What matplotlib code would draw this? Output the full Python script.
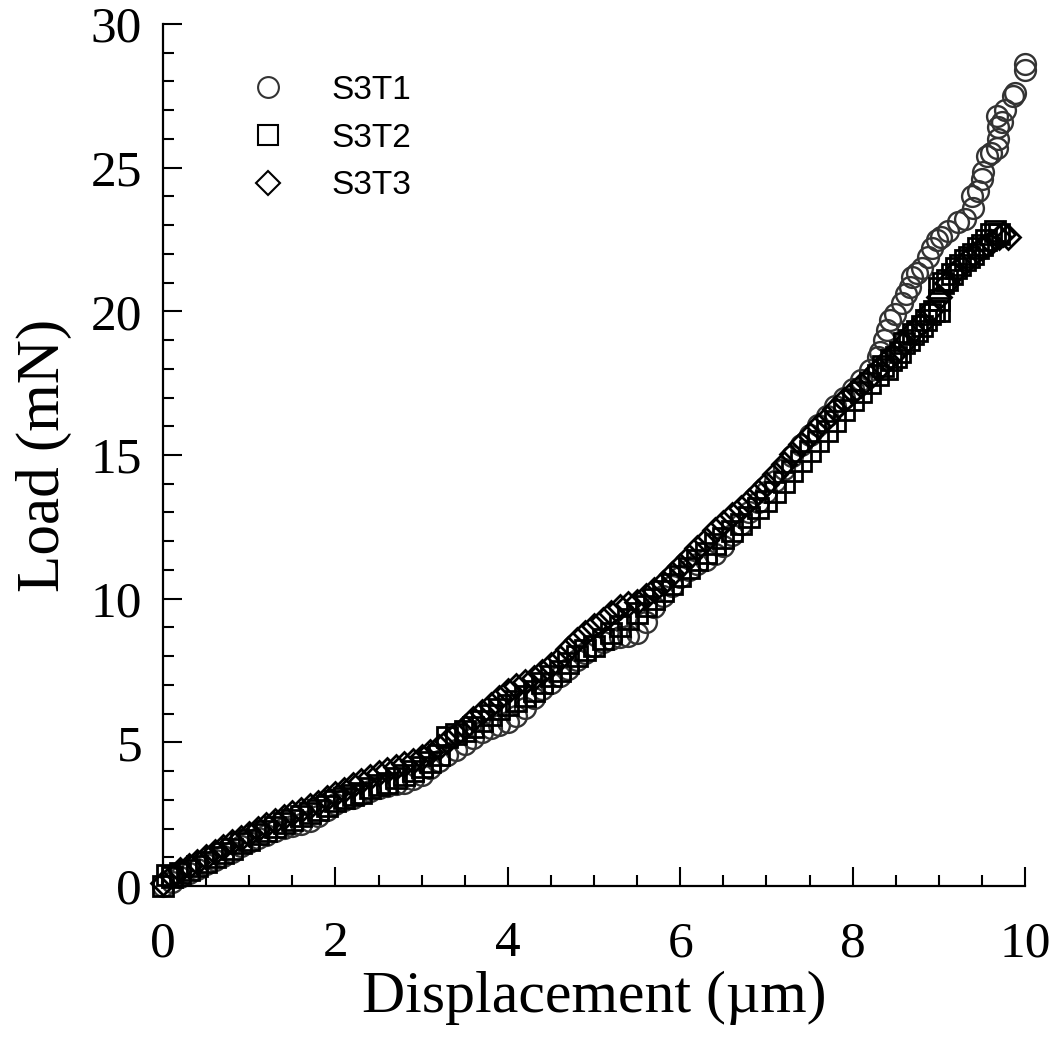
import numpy as np
import matplotlib
matplotlib.use("Agg")
import matplotlib.pyplot as plt
from matplotlib.ticker import MultipleLocator

# Displacement (um) / Load (mN)
s3t1_x = [0.0, 0.1, 0.2, 0.3, 0.4, 0.5, 0.6, 0.7, 0.8, 0.9,
          1.0, 1.1, 1.2, 1.3, 1.4, 1.5, 1.6, 1.7, 1.8, 1.9,
          2.0, 2.1, 2.2, 2.3, 2.4, 2.5, 2.6, 2.7, 2.8, 2.9,
          3.0, 3.1, 3.2, 3.3, 3.4, 3.5, 3.6, 3.7, 3.8, 3.9,
          4.0, 4.1, 4.2, 4.3, 4.4, 4.5, 4.6, 4.7, 4.8, 4.9,
          5.0, 5.1, 5.2, 5.3, 5.4, 5.5, 5.6, 5.7, 5.8, 5.9,
          6.0, 6.1, 6.2, 6.3, 6.4, 6.5, 6.6, 6.7, 6.8, 6.9,
          7.0, 7.1, 7.2, 7.3, 7.4, 7.5, 7.6, 7.7, 7.8, 7.9,
          8.0, 8.1, 8.2, 8.3, 8.32, 8.37, 8.4, 8.43, 8.49, 8.57,
          8.62, 8.67, 8.69, 8.75, 8.8, 8.87, 8.92, 8.98, 9.03, 9.11,
          9.22, 9.3, 9.38, 9.4, 9.45, 9.5, 9.51, 9.56, 9.6, 9.67,
          9.69, 9.69, 9.67, 9.73, 9.77, 9.86, 9.88, 10.0, 10.0]
s3t1_y = [0.0, 0.15, 0.3, 0.45, 0.6, 0.75, 0.9, 1.05, 1.2, 1.38,
          1.52, 1.66, 1.78, 1.9, 2.02, 2.1, 2.15, 2.25, 2.45, 2.65,
          2.85, 2.98, 3.08, 3.2, 3.3, 3.4, 3.48, 3.55, 3.6, 3.72,
          3.85, 4.1, 4.35, 4.55, 4.75, 4.95, 5.15, 5.35, 5.5, 5.6,
          5.7, 5.9, 6.2, 6.55, 6.85, 7.05, 7.3, 7.55, 7.85, 8.1,
          8.35, 8.5, 8.6, 8.65, 8.7, 8.8, 9.2, 9.7, 10.1, 10.45,
          10.75, 11.0, 11.2, 11.35, 11.55, 11.85, 12.2, 12.6, 13.0, 13.35,
          13.7, 14.1, 14.5, 14.95, 15.35, 15.7, 16.05, 16.35, 16.7, 17.0,
          17.3, 17.6, 17.95, 18.4, 18.6, 19.0, 19.35, 19.7, 19.9, 20.3,
          20.6, 20.85, 21.2, 21.35, 21.5, 21.9, 22.2, 22.5, 22.6, 22.8,
          23.1, 23.2, 24.0, 23.6, 24.2, 24.6, 24.85, 25.4, 25.5, 25.7,
          26.0, 26.4, 26.8, 26.6, 27.0, 27.5, 27.6, 28.4, 28.6]

s3t2_x = [0.0, 0.05, 0.1, 0.2, 0.3, 0.4, 0.5, 0.6, 0.7, 0.8, 0.9,
          1.0, 1.1, 1.2, 1.3, 1.4, 1.5, 1.6, 1.7, 1.8, 1.9,
          2.0, 2.1, 2.2, 2.3, 2.4, 2.5, 2.6, 2.7, 2.8, 2.9,
          3.0, 3.1, 3.2, 3.3, 3.4, 3.5, 3.6, 3.7, 3.8, 3.9,
          4.0, 4.1, 4.2, 4.3, 4.4, 4.5, 4.6, 4.7, 4.8, 4.9,
          5.0, 5.1, 5.2, 5.3, 5.4, 5.5, 5.6, 5.7, 5.8, 5.9,
          6.0, 6.1, 6.2, 6.3, 6.4, 6.5, 6.6, 6.7, 6.8, 6.9,
          7.0, 7.1, 7.2, 7.3, 7.4, 7.5, 7.6, 7.7, 7.8, 7.9,
          8.0, 8.1, 8.2, 8.3, 8.35, 8.4, 8.45, 8.5, 8.55, 8.6,
          8.65, 8.7, 8.75, 8.8, 8.85, 8.9, 8.95, 9.0, 9.0, 9.0,
          9.05, 9.1, 9.15, 9.2, 9.25, 9.3, 9.35, 9.4, 9.45, 9.5,
          9.55, 9.6, 9.65, 9.7]
s3t2_y = [0.0, 0.4, 0.3, 0.45, 0.55, 0.7, 0.85, 1.0, 1.15, 1.3, 1.5,
          1.6, 1.8, 1.9, 2.05, 2.2, 2.3, 2.45, 2.55, 2.65, 2.8,
          2.95, 3.05, 3.15, 3.25, 3.4, 3.5, 3.6, 3.75, 3.85, 4.0,
          4.15, 4.3, 4.55, 5.2, 5.3, 5.4, 5.55, 5.75, 5.95, 6.15,
          6.3, 6.45, 6.6, 6.8, 7.05, 7.3, 7.5, 7.75, 8.0, 8.2,
          8.35, 8.6, 8.8, 9.05, 9.3, 9.5, 9.75, 10.0, 10.25, 10.5,
          10.8, 11.05, 11.35, 11.6, 11.9, 12.1, 12.35, 12.6, 12.85, 13.15,
          13.4, 13.7, 14.05, 14.45, 14.8, 15.15, 15.5, 15.85, 16.2, 16.55,
          16.9, 17.2, 17.5, 17.8, 18.1, 18.0, 18.3, 18.4, 18.6, 18.9,
          19.0, 19.2, 19.3, 19.5, 19.7, 19.9, 20.0, 20.0, 20.4, 20.8,
          21.0, 21.1, 21.3, 21.5, 21.6, 21.8, 21.9, 22.0, 22.2, 22.3,
          22.5, 22.7, 22.8, 22.7]

s3t3_x = [0.0, 0.1, 0.2, 0.3, 0.4, 0.5, 0.6, 0.7, 0.8, 0.9,
          1.0, 1.1, 1.2, 1.3, 1.4, 1.5, 1.6, 1.7, 1.8, 1.9,
          2.0, 2.1, 2.2, 2.3, 2.4, 2.5, 2.6, 2.7, 2.8, 2.9,
          3.0, 3.1, 3.2, 3.3, 3.4, 3.5, 3.6, 3.7, 3.8, 3.9,
          4.0, 4.1, 4.2, 4.3, 4.4, 4.5, 4.6, 4.7, 4.8, 4.9,
          5.0, 5.1, 5.2, 5.3, 5.4, 5.5, 5.6, 5.7, 5.8, 5.9,
          6.0, 6.1, 6.2, 6.3, 6.4, 6.5, 6.6, 6.7, 6.8, 6.9,
          7.0, 7.1, 7.2, 7.3, 7.4, 7.5, 7.6, 7.7, 7.8, 7.9,
          8.0, 8.1, 8.2, 8.3, 8.4, 8.5, 8.6, 8.7, 8.8, 8.9,
          9.0, 9.1, 9.2, 9.3, 9.4, 9.5, 9.6, 9.7, 9.75, 9.8]
s3t3_y = [0.1, 0.35, 0.55, 0.7, 0.85, 1.0, 1.18, 1.35, 1.52, 1.68,
          1.82, 1.98, 2.12, 2.25, 2.4, 2.55, 2.65, 2.78, 2.9, 3.05,
          3.2, 3.35, 3.5, 3.65, 3.8, 3.95, 4.05, 4.15, 4.25, 4.35,
          4.5, 4.65, 4.85, 5.05, 5.3, 5.55, 5.8, 6.05, 6.3, 6.55,
          6.8, 6.95, 7.1, 7.25, 7.45, 7.7, 7.95, 8.25, 8.55, 8.8,
          9.05, 9.25, 9.5, 9.7, 9.8, 9.9, 10.1, 10.3, 10.55, 10.85,
          11.15, 11.45, 11.75, 12.05, 12.4, 12.65, 12.9, 13.15, 13.4, 13.7,
          14.0, 14.35, 14.7, 15.05, 15.4, 15.7, 16.0, 16.3, 16.6, 16.9,
          17.2, 17.45, 17.7, 18.0, 18.3, 18.6, 18.9, 19.3, 19.6, 20.0,
          20.5, 21.0, 21.4, 21.7, 22.0, 22.2, 22.4, 22.6, 22.7, 22.6]

plt.rcParams['font.family'] = ['Liberation Serif', 'DejaVu Serif']

fig = plt.figure(figsize=(10.5, 10.46), dpi=100)
ax = fig.add_axes([163 / 1050, 160 / 1046, 862 / 1050, 862 / 1046])

ms = 15
ax.plot(s3t1_x, s3t1_y, 'o', ms=ms, mfc='none', mec='#333333', mew=1.7,
        clip_on=False, label='S3T1')
ax.plot(s3t2_x, s3t2_y, 's', ms=ms - 1, mfc='none', mec='black', mew=2.0,
        clip_on=False, label='S3T2')
ax.plot(s3t3_x, s3t3_y, 'D', ms=ms - 3, mfc='none', mec='black', mew=2.0,
        clip_on=False, label='S3T3')

ax.set_xlim(0, 10)
ax.set_ylim(0, 30)
ax.xaxis.set_major_locator(MultipleLocator(2))
ax.xaxis.set_minor_locator(MultipleLocator(0.5))
ax.yaxis.set_major_locator(MultipleLocator(5))
ax.yaxis.set_minor_locator(MultipleLocator(1))

ax.spines['top'].set_visible(False)
ax.spines['right'].set_visible(False)
for s in ('left', 'bottom'):
    ax.spines[s].set_linewidth(1.6)

ax.tick_params(which='major', direction='in', length=14, width=1.5,
               labelsize=37)
ax.tick_params(axis='x', which='major', pad=25)
ax.tick_params(axis='y', which='major', pad=15)
ax.tick_params(which='minor', direction='in', length=8, width=1.5)

ax.set_xlabel('Displacement (\u00b5m)', fontsize=43)
ax.set_ylabel('Load (mN)', fontsize=44)
ax.xaxis.set_label_coords(0.5, -0.098)
ax.yaxis.set_label_coords(-0.105, 0.5)

leg = ax.legend(loc='upper left', bbox_to_anchor=(0.103, 0.941),
                frameon=False, numpoints=1, handlelength=1.0,
                handletextpad=1.4, labelspacing=0.5, borderpad=0,
                borderaxespad=0, prop={'family': 'Liberation Sans', 'size': 24})
for h in leg.legend_handles:
    h.set_markeredgewidth(1.5)

fig.savefig('out.png', dpi=100)
